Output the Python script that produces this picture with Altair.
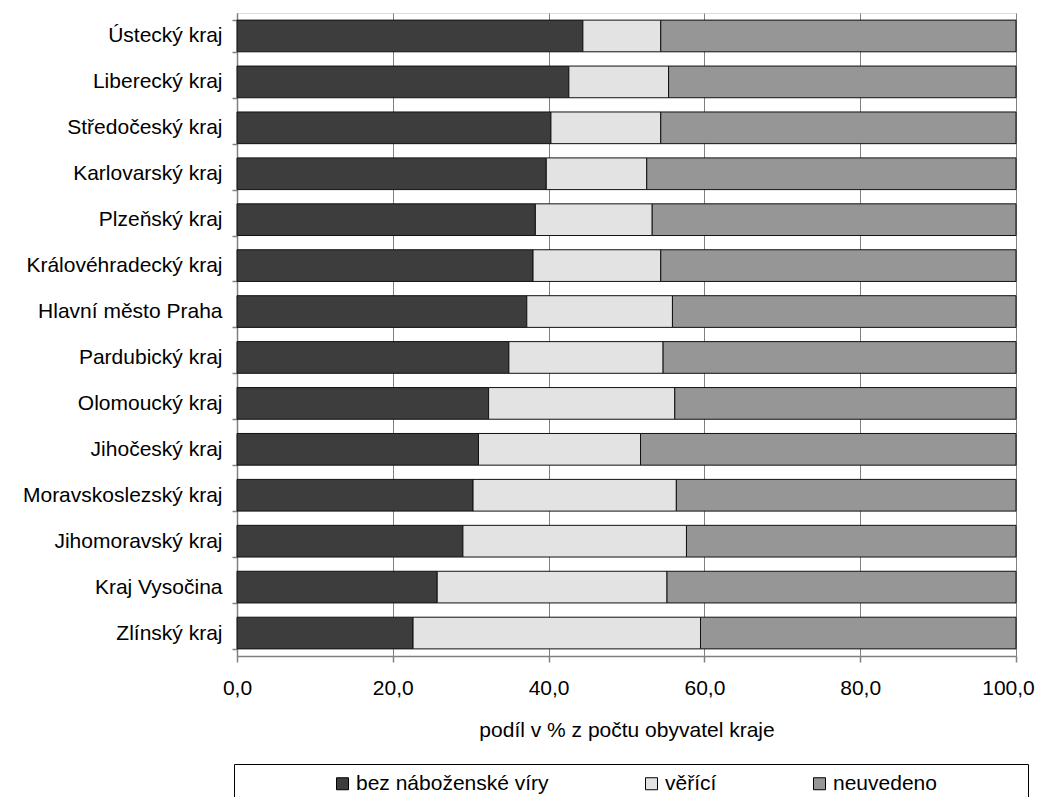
import altair as alt
import pandas as pd

regions = [
    "Ústecký kraj", "Liberecký kraj", "Středočeský kraj", "Karlovarský kraj",
    "Plzeňský kraj", "Královéhradecký kraj", "Hlavní město Praha", "Pardubický kraj",
    "Olomoucký kraj", "Jihočeský kraj", "Moravskoslezský kraj", "Jihomoravský kraj",
    "Kraj Vysočina", "Zlínský kraj",
]
bez = [44.4, 42.6, 40.3, 39.7, 38.3, 38.0, 37.2, 34.9, 32.3, 31.0, 30.3, 29.0, 25.7, 22.6]
verici = [10.0, 12.8, 14.1, 12.9, 15.0, 16.4, 18.7, 19.8, 23.9, 20.8, 26.1, 28.7, 29.5, 36.9]
neuvedeno = [45.6, 44.6, 45.6, 47.4, 46.7, 45.6, 44.1, 45.3, 43.8, 48.2, 43.6, 42.3, 44.8, 40.5]
series = ["bez náboženské víry", "věřící", "neuvedeno"]
colors = ["#3d3d3d", "#e3e3e3", "#969696"]
x_ticks = [0, 20, 40, 60, 80, 100]

rows = []
for i, r in enumerate(regions):
    for j, (s, vals) in enumerate(zip(series, [bez, verici, neuvedeno])):
        rows.append({"kraj": r, "skupina": s, "podil": vals[i], "poradi": j})
df = pd.DataFrame(rows)

FONT = "Liberation Sans"
FS = 21
AX = "#808080"
PAD_RIGHT = "\u00a0" * 14 + "\u200b"

chart = alt.Chart(df).mark_bar(stroke="#111111", strokeWidth=1).encode(
    y=alt.Y(
        "kraj:N", sort=regions, title=None,
        scale=alt.Scale(paddingInner=0.31, paddingOuter=0.155),
        axis=alt.Axis(
            tickBand="extent", tickSize=5, labelPadding=10,
            domainColor=AX, tickColor=AX, domainWidth=1.5, tickWidth=1.5,
            labelFontSize=FS, labelColor="black", labelFont=FONT,
            labelLimit=400, grid=False,
        ),
    ),
    x=alt.X(
        "podil:Q", stack="zero", title="podíl v % z počtu obyvatel kraje",
        scale=alt.Scale(domain=[0, 100], nice=False),
        axis=alt.Axis(
            values=x_ticks,
            labelExpr="replace(format(datum.value, '.1f'), '.', ',')",
            labelOffset=alt.condition("datum.value == 100", alt.value(-8), alt.value(0)),
            tickSize=6, labelPadding=15, titlePadding=21,
            grid=True, gridColor=AX, gridWidth=1,
            domainColor=AX, tickColor=AX, domainWidth=1.5, tickWidth=1.5,
            labelFlush=False, labelOverlap=False,
            labelFontSize=FS, labelColor="black", labelFont=FONT,
            titleFontSize=FS, titleColor="black", titleFont=FONT, titleFontWeight="normal",
        ),
    ),
    color=alt.Color(
        "skupina:N", sort=series,
        scale=alt.Scale(domain=series, range=colors),
        legend=alt.Legend(
            orient="none", legendX=-3, legendY=751, direction="horizontal",
            title=" ", titleOrient="left", titlePadding=89, titleFontSize=20,
            strokeColor="black", padding=9, columnPadding=92,
            symbolType="square", symbolSize=144,
            symbolStrokeColor="black", symbolStrokeWidth=1,
            labelFontSize=FS, labelFont=FONT, labelColor="black", labelOffset=3,
            labelLimit=600,
            labelExpr="datum.label == 'neuvedeno' ? datum.label + '" + PAD_RIGHT + "' : datum.label",
        ),
    ),
    order=alt.Order("poradi:Q"),
).properties(
    width=779, height=643,
    autosize=alt.AutoSizeParams(type="none"),
    padding={"left": 229, "top": 5, "right": 19, "bottom": 141},
).configure_view(stroke=AX, strokeWidth=1).configure(background="white")

chart.save("out.html", embed_options={"renderer": "svg", "actions": False})
